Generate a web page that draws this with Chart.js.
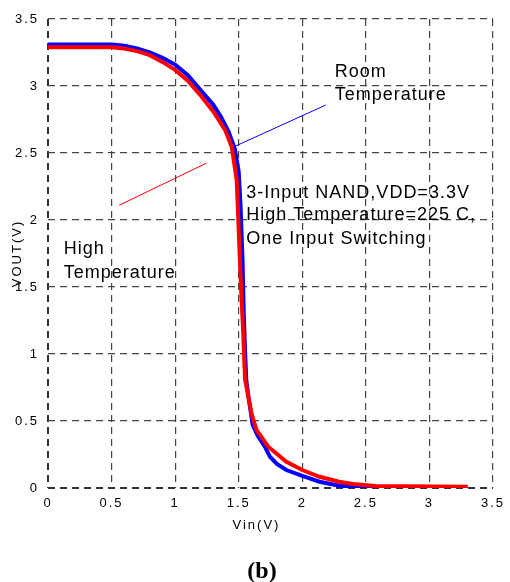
<!DOCTYPE html>
<html>
<head>
<meta charset="utf-8">
<script src="https://cdn.jsdelivr.net/npm/chart.js@4.4.0/dist/chart.umd.min.js"></script>
<style>
  html, body { margin: 0; padding: 0; background: #fff; }
  #wrap { width: 510px; height: 582px; }
</style>
</head>
<body>
<div id="wrap"><canvas id="vtc" width="510" height="582"></canvas></div>
<script>
// room temperature curve (blue)
const roomVin  = [0, 0.5, 0.6, 0.7, 0.8, 0.9, 1.0, 1.1, 1.2, 1.3, 1.36, 1.42, 1.47, 1.50, 1.515, 1.53, 1.54, 1.55, 1.56, 1.58, 1.61, 1.65, 1.706, 1.745, 1.8, 1.875, 2.0, 2.136, 2.29, 2.4, 2.6, 3.3];
const roomVout = [3.31, 3.31, 3.30, 3.28, 3.25, 3.21, 3.16, 3.08, 2.97, 2.86, 2.77, 2.66, 2.53, 2.36, 2.10, 1.70, 1.30, 1.02, 0.80, 0.66, 0.47, 0.39, 0.308, 0.234, 0.18, 0.134, 0.09, 0.047, 0.017, 0.01, 0.005, 0.005];

// high temperature curve, 225 C (red)
const highVin  = [0, 0.5, 0.6, 0.7, 0.8, 0.9, 1.0, 1.1, 1.2, 1.3, 1.394, 1.445, 1.484, 1.495, 1.51, 1.523, 1.536, 1.55, 1.576, 1.60, 1.64, 1.732, 1.875, 2.0, 2.136, 2.29, 2.4, 2.575, 3.3];
const highVout = [3.29, 3.29, 3.28, 3.26, 3.23, 3.18, 3.12, 3.04, 2.93, 2.81, 2.67, 2.547, 2.30, 2.05, 1.68, 1.40, 1.15, 0.81, 0.68, 0.56, 0.433, 0.308, 0.196, 0.134, 0.084, 0.047, 0.03, 0.015, 0.01];

// thin pointer lines from the labels to the curves
const roomPointerVin  = [1.459, 2.185];
const roomPointerVout = [2.545, 2.858];
const highPointerVin  = [0.56, 1.248];
const highPointerVout = [2.11, 2.425];

const axisMin = 0, axisMax = 3.5, axisStep = 0.5;

function toPoints(xs, ys) {
  return xs.map((x, i) => ({ x: x, y: ys[i] }));
}

// text labels inside the plot, anchored in data units
const notes = [
  { text: 'Room', x: 2.255, y: 3.065 },
  { text: 'Temperature', x: 2.255, y: 2.896 },
  { text: '3-Input NAND,VDD=3.3V', x: 1.56, y: 2.162 },
  { text: 'High Temperature=225 C,', x: 1.56, y: 2.0 },
  { text: 'One Input Switching', x: 1.56, y: 1.82 },
  { text: 'High', x: 0.123, y: 1.746 },
  { text: 'Temperature', x: 0.123, y: 1.567 }
];

const textPlugin = {
  id: 'texts',
  beforeDraw(chart) {
    chart.ctx.letterSpacing = '2px';
  },
  afterDraw(chart) {
    const ctx = chart.ctx;
    const xs = chart.scales.x, ys = chart.scales.y;
    ctx.save();
    ctx.fillStyle = '#000';
    ctx.letterSpacing = '1px';
    ctx.font = '18px "Liberation Sans", Arial, sans-serif';
    ctx.textAlign = 'left';
    ctx.textBaseline = 'alphabetic';
    notes.forEach(n => {
      ctx.fillText(n.text, xs.getPixelForValue(n.x), ys.getPixelForValue(n.y));
    });
    // x axis title
    ctx.letterSpacing = '2px';
    ctx.font = '13px "Liberation Sans", Arial, sans-serif';
    ctx.textAlign = 'center';
    ctx.textBaseline = 'middle';
    ctx.fillText('Vin(V)', (chart.chartArea.left + chart.chartArea.right) / 2 - 14, chart.chartArea.bottom + 37);
    // caption
    ctx.letterSpacing = '0px';
    ctx.font = 'bold 24px "Liberation Serif", "Times New Roman", serif';
    ctx.fillText('(b)', 262, 572);
    ctx.restore();
  }
};

function gridWidth(c) { return c.tick && c.tick.value === 0 ? 2 : 1.2; }
function gridColor(c) { return c.tick && c.tick.value === 0 ? '#333' : '#444'; }
function tickLabel(v) { return String(v); }

const ctx = document.getElementById('vtc').getContext('2d');
new Chart(ctx, {
  type: 'line',
  data: {
    datasets: [
      {
        label: 'High Temperature',
        data: toPoints(highVin, highVout),
        borderColor: '#ff0000',
        borderWidth: 4,
        pointRadius: 0,
        tension: 0,
        order: 0
      },
      {
        label: 'Room Temperature',
        data: toPoints(roomVin, roomVout),
        borderColor: '#0000ff',
        borderWidth: 4,
        pointRadius: 0,
        tension: 0,
        order: 1
      },
      {
        label: 'room pointer',
        data: toPoints(roomPointerVin, roomPointerVout),
        borderColor: '#0000ff',
        borderWidth: 1,
        pointRadius: 0,
        order: 2
      },
      {
        label: 'high pointer',
        data: toPoints(highPointerVin, highPointerVout),
        borderColor: '#ff0000',
        borderWidth: 1,
        pointRadius: 0,
        order: 2
      }
    ]
  },
  options: {
    responsive: false,
    animation: false,
    devicePixelRatio: 1,
    layout: { padding: { left: 0, right: 14, top: 19, bottom: 0 } },
    plugins: {
      legend: { display: false },
      tooltip: { enabled: false }
    },
    scales: {
      x: {
        type: 'linear',
        min: axisMin,
        max: axisMax,
        afterFit: s => { s.height = 94; },
        ticks: {
          stepSize: axisStep,
          callback: tickLabel,
          color: '#000',
          font: { family: '"Liberation Sans", Arial, sans-serif', size: 13 },
          padding: 8,
          maxRotation: 0
        },
        grid: { color: gridColor, lineWidth: gridWidth, drawTicks: false },
        border: { display: false, dash: [7, 5] }
      },
      y: {
        min: axisMin,
        max: axisMax,
        afterFit: s => { s.width = 48; },
        title: {
          display: true,
          text: 'VOUT(V)',
          color: '#000',
          font: { family: '"Liberation Sans", Arial, sans-serif', size: 13 },
          padding: { top: 10, bottom: 0 }
        },
        ticks: {
          stepSize: axisStep,
          callback: tickLabel,
          color: '#000',
          font: { family: '"Liberation Sans", Arial, sans-serif', size: 13 },
          padding: 9
        },
        grid: { color: gridColor, lineWidth: gridWidth, drawTicks: false },
        border: { display: false, dash: [7, 5] }
      }
    }
  },
  plugins: [textPlugin]
});
</script>
</body>
</html>
